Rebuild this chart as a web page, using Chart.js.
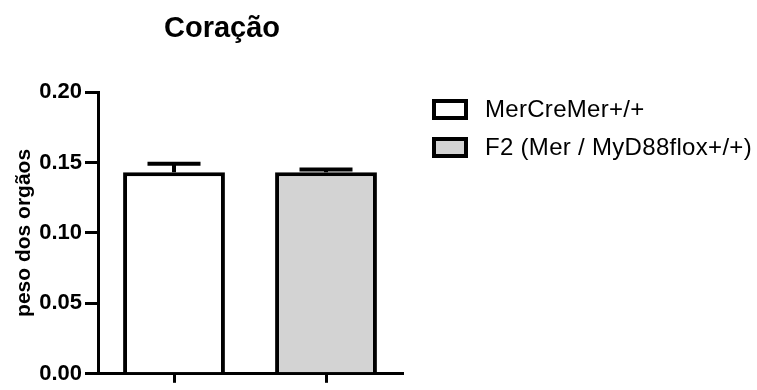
<!DOCTYPE html>
<html>
<head>
<meta charset="utf-8">
<script src="https://cdn.jsdelivr.net/npm/chart.js@4.4.1/dist/chart.umd.min.js"></script>
<style>
  html, body { margin: 0; padding: 0; background: #ffffff; }
  #wrap { width: 757px; height: 390px; position: relative; }
</style>
</head>
<body>
<div id="wrap"><canvas id="c" width="757" height="390"></canvas></div>
<script>
// Organ weight, heart (mean ± SEM)
const chartTitle = 'Coração';
const yAxisTitle = 'peso dos orgãos';
const categories = ['MerCreMer+/+', 'F2 (Mer / MyD88flox+/+)'];
const means = [0.143, 0.143];
const errors = [0.006, 0.002];
const fills = ['#ffffff', '#d3d3d3'];
const yTicks = [0.00, 0.05, 0.10, 0.15, 0.20];

const FONT = '"Liberation Sans", Arial, Helvetica, sans-serif';

// One dataset per group, each with its single bar in its own category slot
const datasets = categories.map((name, i) => ({
  label: name,
  data: categories.map((_, j) => (j === i ? means[i] : null)),
  errors: categories.map((_, j) => (j === i ? errors[i] : null)),
  backgroundColor: fills[i],
  borderColor: '#000000',
  borderWidth: 4,
  borderSkipped: 'bottom',
  skipNull: true,
  barPercentage: 0.67,
  categoryPercentage: 1.0
}));

// Error bars: vertical whisker above each bar with a horizontal cap
const errorBars = {
  id: 'errorBars',
  afterDatasetsDraw(chart) {
    const ctx = chart.ctx;
    const y = chart.scales.y;
    ctx.save();
    ctx.strokeStyle = '#000000';
    ctx.lineWidth = 4;
    chart.data.datasets.forEach((ds, di) => {
      const meta = chart.getDatasetMeta(di);
      ds.data.forEach((v, j) => {
        if (v === null) return;
        const bar = meta.data[j];
        const top = y.getPixelForValue(v);
        const hi = y.getPixelForValue(v + ds.errors[j]);
        const half = 26.5;
        ctx.beginPath();
        ctx.moveTo(bar.x, top);
        ctx.lineTo(bar.x, hi);
        ctx.moveTo(bar.x - half, hi);
        ctx.lineTo(bar.x + half, hi);
        ctx.stroke();
      });
    });
    ctx.restore();
  }
};

// Title and legend drawn beside the plot
const decorations = {
  id: 'decorations',
  afterDraw(chart) {
    const ctx = chart.ctx;
    ctx.save();
    ctx.fillStyle = '#000000';
    ctx.font = 'bold 29px ' + FONT;
    ctx.textAlign = 'center';
    ctx.textBaseline = 'alphabetic';
    ctx.fillText(chartTitle, 222, 37);

    const rows = [109, 147];
    ctx.font = '24px ' + FONT;
    ctx.letterSpacing = '0.3px';
    ctx.textAlign = 'left';
    ctx.textBaseline = 'middle';
    chart.data.datasets.forEach((ds, i) => {
      const cy = rows[i];
      ctx.fillStyle = ds.backgroundColor;
      ctx.fillRect(434, cy - 8, 32, 17);
      ctx.strokeStyle = '#000000';
      ctx.lineWidth = 4;
      ctx.strokeRect(434, cy - 8, 32, 17);
      ctx.fillStyle = '#000000';
      ctx.fillText(ds.label, 485, cy + 1);
    });
    ctx.restore();
  }
};

new Chart(document.getElementById('c'), {
  type: 'bar',
  data: { labels: categories, datasets },
  options: {
    responsive: false,
    animation: false,
    devicePixelRatio: 1,
    layout: { padding: { left: 0, top: 92, right: 355, bottom: 0 } },
    plugins: {
      legend: { display: false },
      title: { display: false },
      tooltip: { enabled: false }
    },
    scales: {
      x: {
        afterFit(s) { s.height = 9; },
        grid: {
          offset: false,
          drawOnChartArea: false,
          drawTicks: true,
          tickLength: 9,
          lineWidth: 3,
          color: '#000000'
        },
        border: { display: true, color: '#000000', width: 3 },
        ticks: { display: false }
      },
      y: {
        min: 0,
        max: 0.2,
        afterFit(s) { s.width = 98; },
        afterBuildTicks(s) { s.ticks = yTicks.map(v => ({ value: v })); },
        grid: {
          drawOnChartArea: false,
          drawTicks: true,
          tickLength: 13,
          lineWidth: 3,
          color: '#000000'
        },
        border: { display: true, color: '#000000', width: 3 },
        ticks: {
          padding: 3,
          color: '#000000',
          font: { family: FONT, size: 22, weight: 'bold' },
          callback: v => Number(v).toFixed(2)
        },
        title: {
          display: true,
          text: yAxisTitle,
          color: '#000000',
          font: { family: FONT, size: 21, weight: 'bold' },
          padding: { top: 12, bottom: 0 }
        }
      }
    }
  },
  plugins: [errorBars, decorations]
});
</script>
</body>
</html>
